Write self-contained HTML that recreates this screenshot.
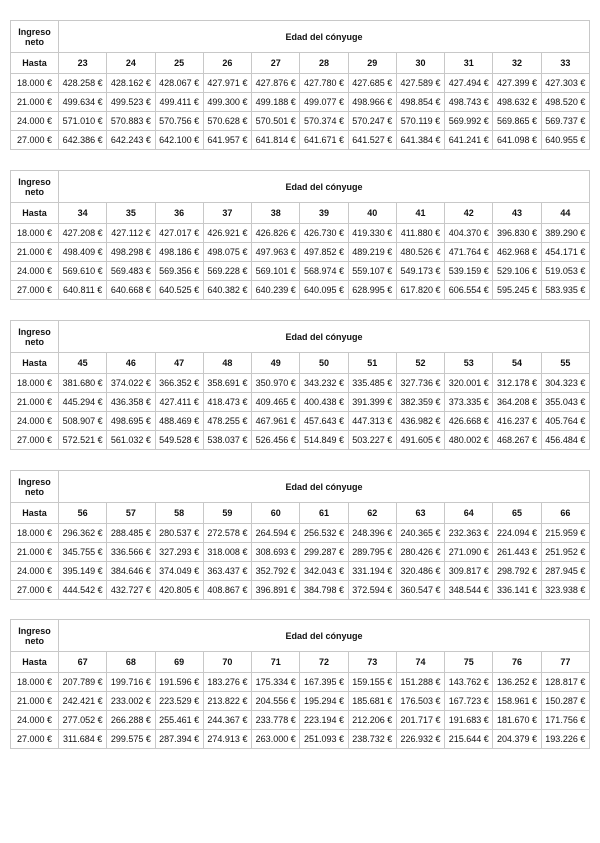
<!DOCTYPE html>
<html><head><meta charset="utf-8"><style>
body{margin:0;width:600px;height:843px;background:#fff;position:relative;font-family:"Liberation Sans",sans-serif;}
table{position:absolute;left:10px;width:580px;border-collapse:collapse;table-layout:fixed;color:#111;}
td{border:1px solid #c8c8c8;text-align:center;padding:0;font-size:9px;white-space:nowrap;overflow:hidden;}
tr.h1 td{height:31px;font-weight:bold;font-size:9px;}
tr.h2 td{height:20px;font-weight:bold;font-size:9px;}
tr.d td{height:18px;}
col.f{width:48px;}
</style></head><body>

<table style="top:20px"><col class="f"><tr class="h1"><td>Ingreso<br>neto</td><td colspan="11">Edad del cónyuge</td></tr>
<tr class="h2"><td>Hasta</td><td>23</td><td>24</td><td>25</td><td>26</td><td>27</td><td>28</td><td>29</td><td>30</td><td>31</td><td>32</td><td>33</td></tr>
<tr class="d"><td>18.000 €</td><td>428.258 €</td><td>428.162 €</td><td>428.067 €</td><td>427.971 €</td><td>427.876 €</td><td>427.780 €</td><td>427.685 €</td><td>427.589 €</td><td>427.494 €</td><td>427.399 €</td><td>427.303 €</td></tr>
<tr class="d"><td>21.000 €</td><td>499.634 €</td><td>499.523 €</td><td>499.411 €</td><td>499.300 €</td><td>499.188 €</td><td>499.077 €</td><td>498.966 €</td><td>498.854 €</td><td>498.743 €</td><td>498.632 €</td><td>498.520 €</td></tr>
<tr class="d"><td>24.000 €</td><td>571.010 €</td><td>570.883 €</td><td>570.756 €</td><td>570.628 €</td><td>570.501 €</td><td>570.374 €</td><td>570.247 €</td><td>570.119 €</td><td>569.992 €</td><td>569.865 €</td><td>569.737 €</td></tr>
<tr class="d"><td>27.000 €</td><td>642.386 €</td><td>642.243 €</td><td>642.100 €</td><td>641.957 €</td><td>641.814 €</td><td>641.671 €</td><td>641.527 €</td><td>641.384 €</td><td>641.241 €</td><td>641.098 €</td><td>640.955 €</td></tr></table>

<table style="top:170px"><col class="f"><tr class="h1"><td>Ingreso<br>neto</td><td colspan="11">Edad del cónyuge</td></tr>
<tr class="h2"><td>Hasta</td><td>34</td><td>35</td><td>36</td><td>37</td><td>38</td><td>39</td><td>40</td><td>41</td><td>42</td><td>43</td><td>44</td></tr>
<tr class="d"><td>18.000 €</td><td>427.208 €</td><td>427.112 €</td><td>427.017 €</td><td>426.921 €</td><td>426.826 €</td><td>426.730 €</td><td>419.330 €</td><td>411.880 €</td><td>404.370 €</td><td>396.830 €</td><td>389.290 €</td></tr>
<tr class="d"><td>21.000 €</td><td>498.409 €</td><td>498.298 €</td><td>498.186 €</td><td>498.075 €</td><td>497.963 €</td><td>497.852 €</td><td>489.219 €</td><td>480.526 €</td><td>471.764 €</td><td>462.968 €</td><td>454.171 €</td></tr>
<tr class="d"><td>24.000 €</td><td>569.610 €</td><td>569.483 €</td><td>569.356 €</td><td>569.228 €</td><td>569.101 €</td><td>568.974 €</td><td>559.107 €</td><td>549.173 €</td><td>539.159 €</td><td>529.106 €</td><td>519.053 €</td></tr>
<tr class="d"><td>27.000 €</td><td>640.811 €</td><td>640.668 €</td><td>640.525 €</td><td>640.382 €</td><td>640.239 €</td><td>640.095 €</td><td>628.995 €</td><td>617.820 €</td><td>606.554 €</td><td>595.245 €</td><td>583.935 €</td></tr></table>

<table style="top:320px"><col class="f"><tr class="h1"><td>Ingreso<br>neto</td><td colspan="11">Edad del cónyuge</td></tr>
<tr class="h2"><td>Hasta</td><td>45</td><td>46</td><td>47</td><td>48</td><td>49</td><td>50</td><td>51</td><td>52</td><td>53</td><td>54</td><td>55</td></tr>
<tr class="d"><td>18.000 €</td><td>381.680 €</td><td>374.022 €</td><td>366.352 €</td><td>358.691 €</td><td>350.970 €</td><td>343.232 €</td><td>335.485 €</td><td>327.736 €</td><td>320.001 €</td><td>312.178 €</td><td>304.323 €</td></tr>
<tr class="d"><td>21.000 €</td><td>445.294 €</td><td>436.358 €</td><td>427.411 €</td><td>418.473 €</td><td>409.465 €</td><td>400.438 €</td><td>391.399 €</td><td>382.359 €</td><td>373.335 €</td><td>364.208 €</td><td>355.043 €</td></tr>
<tr class="d"><td>24.000 €</td><td>508.907 €</td><td>498.695 €</td><td>488.469 €</td><td>478.255 €</td><td>467.961 €</td><td>457.643 €</td><td>447.313 €</td><td>436.982 €</td><td>426.668 €</td><td>416.237 €</td><td>405.764 €</td></tr>
<tr class="d"><td>27.000 €</td><td>572.521 €</td><td>561.032 €</td><td>549.528 €</td><td>538.037 €</td><td>526.456 €</td><td>514.849 €</td><td>503.227 €</td><td>491.605 €</td><td>480.002 €</td><td>468.267 €</td><td>456.484 €</td></tr></table>

<table style="top:470px"><col class="f"><tr class="h1"><td>Ingreso<br>neto</td><td colspan="11">Edad del cónyuge</td></tr>
<tr class="h2"><td>Hasta</td><td>56</td><td>57</td><td>58</td><td>59</td><td>60</td><td>61</td><td>62</td><td>63</td><td>64</td><td>65</td><td>66</td></tr>
<tr class="d"><td>18.000 €</td><td>296.362 €</td><td>288.485 €</td><td>280.537 €</td><td>272.578 €</td><td>264.594 €</td><td>256.532 €</td><td>248.396 €</td><td>240.365 €</td><td>232.363 €</td><td>224.094 €</td><td>215.959 €</td></tr>
<tr class="d"><td>21.000 €</td><td>345.755 €</td><td>336.566 €</td><td>327.293 €</td><td>318.008 €</td><td>308.693 €</td><td>299.287 €</td><td>289.795 €</td><td>280.426 €</td><td>271.090 €</td><td>261.443 €</td><td>251.952 €</td></tr>
<tr class="d"><td>24.000 €</td><td>395.149 €</td><td>384.646 €</td><td>374.049 €</td><td>363.437 €</td><td>352.792 €</td><td>342.043 €</td><td>331.194 €</td><td>320.486 €</td><td>309.817 €</td><td>298.792 €</td><td>287.945 €</td></tr>
<tr class="d"><td>27.000 €</td><td>444.542 €</td><td>432.727 €</td><td>420.805 €</td><td>408.867 €</td><td>396.891 €</td><td>384.798 €</td><td>372.594 €</td><td>360.547 €</td><td>348.544 €</td><td>336.141 €</td><td>323.938 €</td></tr></table>

<table style="top:619px"><col class="f"><tr class="h1"><td>Ingreso<br>neto</td><td colspan="11">Edad del cónyuge</td></tr>
<tr class="h2"><td>Hasta</td><td>67</td><td>68</td><td>69</td><td>70</td><td>71</td><td>72</td><td>73</td><td>74</td><td>75</td><td>76</td><td>77</td></tr>
<tr class="d"><td>18.000 €</td><td>207.789 €</td><td>199.716 €</td><td>191.596 €</td><td>183.276 €</td><td>175.334 €</td><td>167.395 €</td><td>159.155 €</td><td>151.288 €</td><td>143.762 €</td><td>136.252 €</td><td>128.817 €</td></tr>
<tr class="d"><td>21.000 €</td><td>242.421 €</td><td>233.002 €</td><td>223.529 €</td><td>213.822 €</td><td>204.556 €</td><td>195.294 €</td><td>185.681 €</td><td>176.503 €</td><td>167.723 €</td><td>158.961 €</td><td>150.287 €</td></tr>
<tr class="d"><td>24.000 €</td><td>277.052 €</td><td>266.288 €</td><td>255.461 €</td><td>244.367 €</td><td>233.778 €</td><td>223.194 €</td><td>212.206 €</td><td>201.717 €</td><td>191.683 €</td><td>181.670 €</td><td>171.756 €</td></tr>
<tr class="d"><td>27.000 €</td><td>311.684 €</td><td>299.575 €</td><td>287.394 €</td><td>274.913 €</td><td>263.000 €</td><td>251.093 €</td><td>238.732 €</td><td>226.932 €</td><td>215.644 €</td><td>204.379 €</td><td>193.226 €</td></tr></table>

</body></html>
